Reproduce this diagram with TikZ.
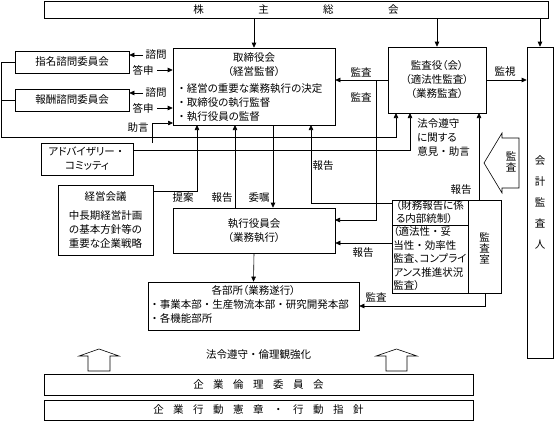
\documentclass[tikz,border=0pt]{standalone}
\usepackage{fontspec}
\setmainfont{Noto Sans CJK JP}[RawFeature={+palt}]
\usetikzlibrary{arrows.meta}
\newcommand{\jgap}{\hspace{9.5pt}}
\newcommand{\nk}{\makebox[10.5pt]{・}}

\begin{document}
\begin{tikzpicture}[x=1pt,y=-1pt,line width=0.6pt,
  font=\fontsize{10.5}{14}\selectfont,
  box/.style={draw,inner sep=0pt,align=center},
  arr/.style={-{Triangle[length=5pt,width=4.5pt]}},
  lbl/.style={inner sep=0pt,align=center}]
\useasboundingbox (0,0) rectangle (555,421);

% boxes
\node[box,minimum width=504pt,minimum height=17pt] (kabunushi) at (296,9.5) {株\hspace{54.5pt}主\hspace{54.5pt}総\hspace{54.5pt}会};
\node[box,minimum width=162pt,minimum height=77pt] (torishimari) at (254,86.5) {};
\node[box,minimum width=114pt,minimum height=22pt] (shimei) at (72,62) {指名諮問委員会};
\node[box,minimum width=114pt,minimum height=22pt] (hoshu) at (72,100) {報酬諮問委員会};
\node[box,minimum width=98pt,minimum height=66pt] (kansayaku) at (437,80) {監査役（会）\\（適法性監査）\\（業務監査）};
\node[box,minimum width=26pt,minimum height=311pt,font=\fontsize{10.5}{21}\selectfont] (kaikei) at (540,202.5) {会\\計\\監\\査\\人};
\node[box,minimum width=92pt,minimum height=32pt] (advisory) at (87,159) {アドバイザリー\nk\\コミッティ};
\node[box,minimum width=95pt,minimum height=70pt] (keiei) at (105.5,220) {経営会議\\[5pt]中長期経営計画\\の基本方針等の\\重要な企業戦略};
\node[box,minimum width=162pt,minimum height=45pt] (shikko) at (254,230.5) {執行役員会\\（業務執行）};
\node[box,minimum width=211pt,minimum height=48pt] (kakubu) at (253.5,306) {};
\node[box,minimum width=109pt,minimum height=93pt] (kansashitsu) at (446.5,246.5) {};
\node[box,minimum width=76pt,minimum height=25pt,align=left,font=\fontsize{10.5}{13}\selectfont] (zaimu) at (430,212.5) {（財務報告に係\\る内部統制）};
\node[box,minimum width=76pt,minimum height=68pt,align=left,font=\fontsize{10.5}{13.5}\selectfont] (tekiho) at (430,259) {（適法性\nk 妥\\当性\nk 効率性\\監査、コンプライ\\アンス推進状況\\監査）};
\node[box,minimum width=429pt,minimum height=21pt] (rinri) at (258.5,384.5) {企\jgap 業\jgap 倫\jgap 理\jgap 委\jgap 員\jgap 会};
\node[box,minimum width=429pt,minimum height=20pt] (kodo) at (258.5,410) {企\jgap 業\jgap 行\jgap 動\jgap 憲\jgap 章\jgap \nk\jgap 行\jgap 動\jgap 指\jgap 針};

% texts inside boxes
\node[lbl] (toritext) at (254,64.5) {取締役会\\（経営監督）};
\node[lbl,anchor=north west,align=left] (toribullets) at (176,83) {\nk 経営の重要な業務執行の決定\\\nk 取締役の執行監督\\\nk 執行役員の監督};
\node[lbl] (kakubutitle) at (253.5,291) {各部所（業務遂行）};
\node[lbl,anchor=north west,align=left] (kakububullets) at (149,299.5) {\nk 事業本部\nk 生産物流本部\nk 研究開発本部\\\nk 各機能部所};
\node[lbl,font=\fontsize{10.5}{11}\selectfont] (shitsutext) at (484.5,248) {監\\査\\室};

% hollow arrows
\draw (484,163) -- (502,133) -- (502,138) -- (519,138) -- (519,188) -- (502,188) -- (502,193) -- cycle;
\node[lbl,font=\fontsize{10.5}{11}\selectfont] (kansaarrow) at (511,162) {監\\査};
\draw (99,349) -- (119,356) -- (110,356) -- (110,371) -- (88,371) -- (88,356) -- (79,356) -- cycle;
\draw (396.5,349) -- (417,356) -- (407,356) -- (407,371) -- (386,371) -- (386,356) -- (376,356) -- cycle;

% connector points
\coordinate (loopL) at (1,137);
\coordinate (kin1) at (396,113);
\coordinate (kin2) at (410,113);
\coordinate (kin3) at (479,113);
\coordinate (adv1) at (133,150);
\coordinate (jogen) at (152,143);
\coordinate (tw3) at (173,123);
\coordinate (teian) at (153,191);
\coordinate (tb1) at (197,125);
\coordinate (tb2) at (235,125);
\coordinate (tb3) at (273,125);
\coordinate (tb4) at (311,125);
\coordinate (zw) at (392,203);
\coordinate (kj) at (376,80);
\coordinate (se1) at (335,220);
\coordinate (tw) at (392,243);
\coordinate (ks) at (485,293);
\coordinate (q1) at (143,55);
\coordinate (q2) at (157,70);
\coordinate (q3) at (143,93);
\coordinate (q4) at (157,108);

\draw[arr] (torishimari.north |- kabunushi.south) -- (torishimari.north);
\draw[arr] (kansayaku.north |- kabunushi.south) -- (kansayaku.north);
\draw[arr] (kaikei.north |- kabunushi.south) -- (kaikei.north);
\draw[arr] (q1) -- (q1 -| shimei.east);
\draw[arr] (q2) -- (q2 -| torishimari.west);
\draw[arr] (q3) -- (q3 -| hoshu.east);
\draw[arr] (q4) -- (q4 -| torishimari.west);
\draw[arr] (shimei.west) -| (loopL) -| (kin1);
\draw (hoshu.west) -- (hoshu.west -| loopL);
\draw[arr] (adv1) -| (kin2);
\draw[arr] (jogen) |- (tw3);
\draw[arr] (teian) -| (tb1);
\draw[arr] (tb2 |- shikko.north) -- (tb2);
\draw[arr] (tb3) -- (tb3 |- shikko.north);
\draw[arr] (zw) -| (tb4);
\draw[arr] (kansayaku.west) -- (kansayaku.west -| torishimari.east);
\draw[arr] (kj) |- (se1);
\draw[arr] (kansayaku.east) -- (kansayaku.east -| kaikei.west);
\draw[arr] (kin3 |- kansashitsu.north) -- (kin3);
\draw[arr] (tw) -- (tw -| shikko.east);
\draw[arr] (ks) |- (kakubu.east);
\draw[arr] (shikko.south) -- (kakubu.north);

% labels
\node[lbl] (shimon1) at (156,55) {諮問};
\node[lbl] (toshin1) at (143,70) {答申};
\node[lbl] (shimon2) at (156,93) {諮問};
\node[lbl] (toshin2) at (143,108) {答申};
\node[lbl] (jogenlbl) at (138,128) {助言};
\node[lbl] (teianlbl) at (183,198) {提案};
\node[lbl] (hokoku1) at (222,198) {報告};
\node[lbl] (ishoku) at (259,198) {委嘱};
\node[lbl] (kansa1) at (361,72) {監査};
\node[lbl] (kansa2) at (361,97) {監査};
\node[lbl] (kanshi) at (505,72) {監視};
\node[lbl] (hokoku2) at (323,166) {報告};
\node[lbl] (hokoku3) at (461,190) {報告};
\node[lbl] (hokoku4) at (363,253) {報告};
\node[lbl] (kansa3) at (376,297) {監査};
\node[lbl,anchor=north west,align=left] (horei) at (417,118) {法令遵守\\に関する\\意見\nk 助言};
\node[lbl] (kyoka) at (258.5,355) {法令遵守\nk 倫理観強化};
\end{tikzpicture}
\end{document}
